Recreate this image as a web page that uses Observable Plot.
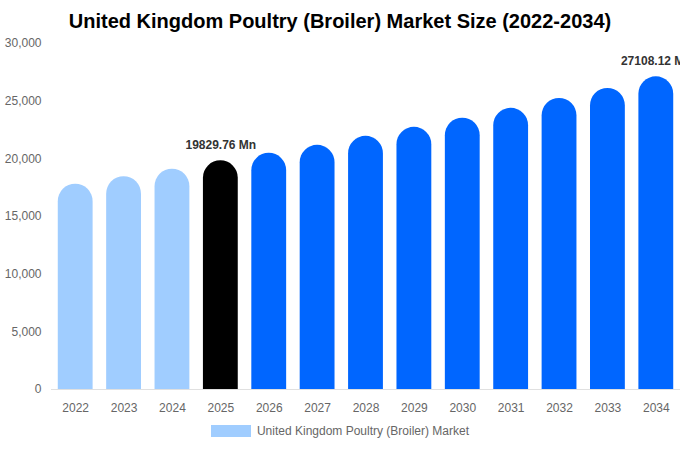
<!DOCTYPE html>
<html>
<head>
<meta charset="utf-8">
<script src="https://cdn.jsdelivr.net/npm/d3@7"></script>
<script src="https://cdn.jsdelivr.net/npm/@observablehq/plot@0.6"></script>
<style>
  body { margin: 0; background: #fff; font-family: "Liberation Sans", Arial, sans-serif; overflow: hidden; }
  #title { height: 36px; line-height: 42px; text-align: center; font-weight: bold; font-size: 20px; color: #000; }
  #legend { display: flex; justify-content: center; align-items: center; font-size: 12px; color: #666; margin-top: 4px; }
  #legend .sw { width: 40px; height: 12px; background: #a0cdff; margin-right: 6px; }
  svg { overflow: visible; }
</style>
</head>
<body>
<div id="title">United Kingdom Poultry (Broiler) Market Size (2022-2034)</div>
<div id="chart"></div>
<div id="legend"><div class="sw"></div><span>United Kingdom Poultry (Broiler) Market</span></div>
<script>
const years = ["2022","2023","2024","2025","2026","2027","2028","2029","2030","2031","2032","2033","2034"];
const values = [17800, 18450, 19100, 19829.76, 20480, 21170, 21950, 22730, 23520, 24380, 25240, 26100, 27108.12];
const kinds = ["past","past","past","current","future","future","future","future","future","future","future","future","future"];
const labels = ["","","","19829.76 Mn","","","","","","","","","27108.12 Mn"];
const yTicks = [0, 5000, 10000, 15000, 20000, 25000, 30000];

const data = years.map((y, i) => ({year: y, value: values[i], kind: kinds[i], label: labels[i]}));
const colorOf = {past: "#a0cdff", current: "#000000", future: "#0066ff"};

const W = 680, mL = 51, mR = 0, pad = 0.28;
const bw = (W - mL - mR) / years.length * (1 - pad);

const chart = Plot.plot({
  width: W,
  height: 384,
  marginLeft: mL,
  marginRight: mR,
  marginTop: 7,
  marginBottom: 31,
  style: {fontFamily: "Liberation Sans, Arial, sans-serif", fontSize: "12px", color: "#666", overflow: "visible"},
  x: {domain: years, paddingInner: pad, paddingOuter: pad / 2, round: false, label: null, tickSize: 0, tickPadding: 14},
  y: {domain: [0, 30000], label: null},
  marks: [
    Plot.axisY({ticks: yTicks, tickFormat: d3.format(","), tickSize: 0, tickPadding: 10, line: true, stroke: "#e0e0e0", color: "#666", label: null}),
    Plot.barY(data, {x: "year", y1: -4000, y2: "value", fill: d => colorOf[d.kind], rx: bw / 2, clip: true}),
    Plot.ruleY([0], {stroke: "#e0e0e0"}),
    Plot.text(data.filter(d => d.label), {x: "year", y: "value", text: "label", dy: -16, fontWeight: "bold", fill: "#333", fontSize: 12})
  ]
});
document.getElementById("chart").appendChild(chart);
</script>
</body>
</html>
